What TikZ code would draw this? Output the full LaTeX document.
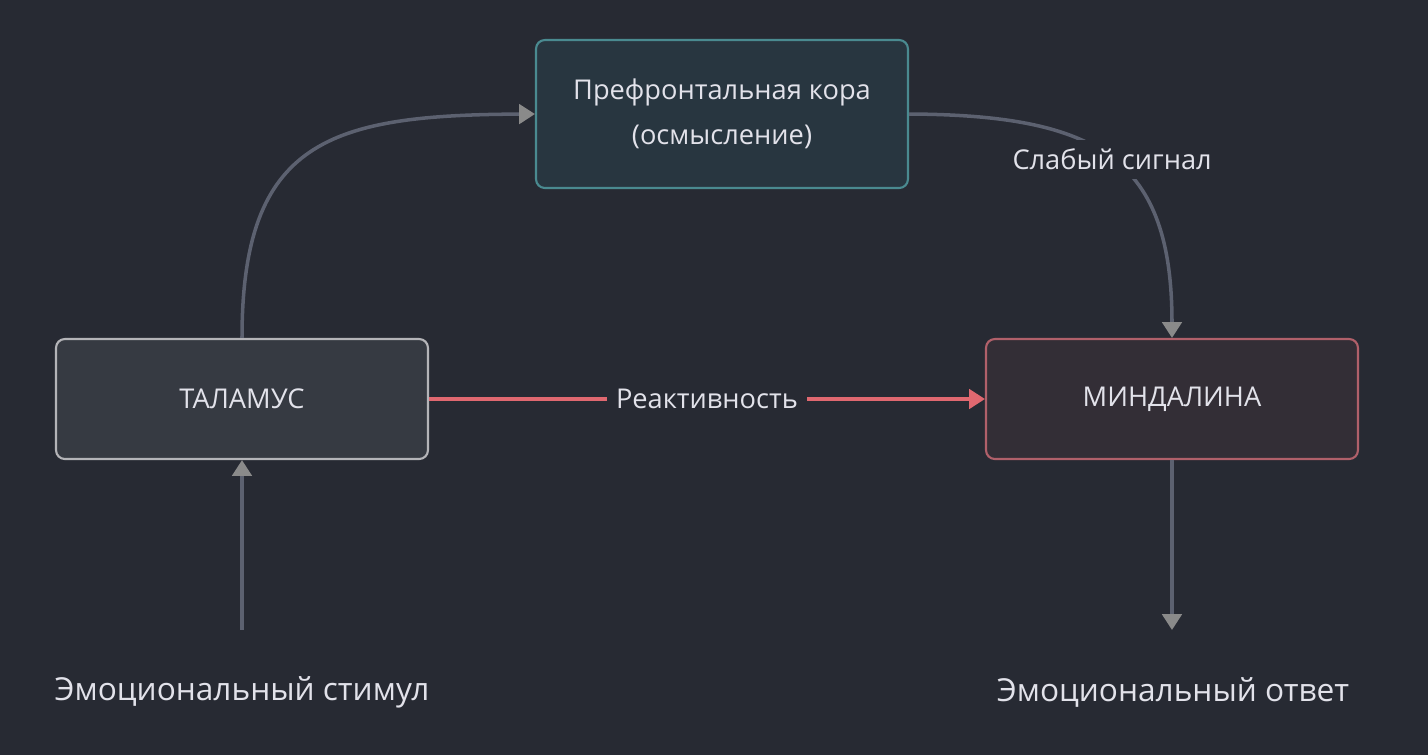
\documentclass[tikz,border=0pt]{standalone}
\usepackage{fontspec}
\setmainfont{Open Sans}
\usetikzlibrary{arrows.meta}
\definecolor{bg}{HTML}{272A33}
\definecolor{edgegray}{HTML}{5C6170}
\definecolor{tipgray}{HTML}{8A8A8A}
\definecolor{reactred}{HTML}{E06870}
\definecolor{txt}{HTML}{E2E2EA}
\definecolor{pfcfill}{HTML}{283640}
\definecolor{pfcline}{HTML}{4A8A90}
\definecolor{thalfill}{HTML}{363A42}
\definecolor{thalline}{HTML}{B4B4B8}
\definecolor{amygfill}{HTML}{332E36}
\definecolor{amygline}{HTML}{B0606A}
\begin{document}
\begin{tikzpicture}[x=0.02cm,y=-0.02cm]

\tikzset{box/.style = {rectangle, rounded corners=5pt, line width=1.2pt, minimum width=7.44cm, text=txt, font=\fontsize{15.5}{25.5}\selectfont, align=center}}
\tikzset{edge/.style = {line width=2pt, draw=edgegray, -{Triangle[length=9pt,width=11pt,color=tipgray]}}}
\tikzset{plain/.style = {text=txt, font=\fontsize{18}{22}\selectfont}}
\fill[bg] (0,0) rectangle (1428,755);
%verticies
\node[box, fill=pfcfill, draw=pfcline, minimum height=2.96cm] (pfc) at (722,114) {Префронтальная кора\\(осмысление)};
\node[box, fill=thalfill, draw=thalline, minimum height=2.4cm] (thal) at (242,399) {ТАЛАМУС};
\node[box, fill=amygfill, draw=amygline, minimum height=2.4cm] (amyg) at (1172,399) {МИНДАЛИНА};
\node[plain] (stim) at (242,692) {Эмоциональный стимул};
\node[plain] (resp) at (1173,692) {Эмоциональный ответ};
\coordinate (stimtop) at (242,630);
\coordinate (respend) at (1172,630);
%edges
\draw[edge] (stimtop) -- (thal.south);
\draw[edge] (thal.north) .. controls (242,140) and (330,115) .. (pfc.west);
\draw[edge] (pfc.east) .. controls (1100,115) and (1172,160) .. node[pos=0.5, fill=bg, text=txt, font=\fontsize{15.5}{18}\selectfont, inner sep=5pt] {Слабый сигнал} (amyg.north);
\draw[edge, draw=reactred, -{Triangle[length=9pt,width=11pt,color=reactred]}] (thal.east) -- node[fill=bg, text=txt, font=\fontsize{15.5}{18}\selectfont, inner sep=5pt] {Реактивность} (amyg.west);
\draw[edge] (amyg.south) -- (respend);

\end{tikzpicture}
\end{document}
